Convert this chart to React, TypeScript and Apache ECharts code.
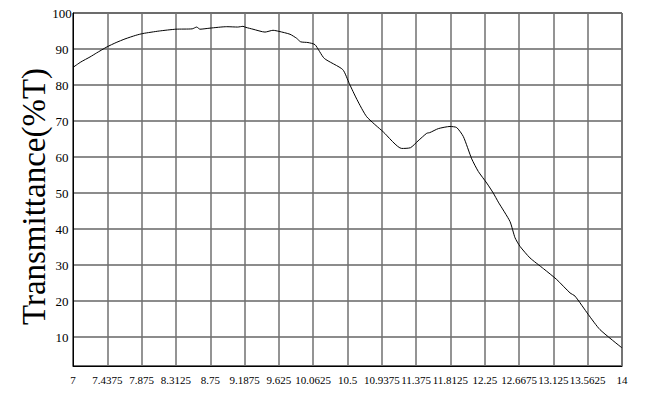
import React, { useEffect, useRef } from "react";
import * as echarts from "echarts";

const xTickLabels = ["7", "7.4375", "7.875", "8.3125", "8.75", "9.1875", "9.625", "10.0625", "10.5", "10.9375", "11.375", "11.8125", "12.25", "12.6675", "13.125", "13.5625", "14"];

const wavelength = [7.0, 7.1, 7.217, 7.3, 7.434, 7.55, 7.663, 7.8, 7.89, 8.1, 8.31, 8.52, 8.577, 8.619, 8.747, 8.96, 9.1, 9.167, 9.206, 9.295, 9.448, 9.55, 9.627, 9.767, 9.85, 9.903, 9.996, 10.086, 10.204, 10.439, 10.523, 10.62, 10.745, 10.956, 11.191, 11.303, 11.4, 11.51, 11.55, 11.658, 11.807, 11.892, 11.977, 12.084, 12.168, 12.275, 12.359, 12.423, 12.572, 12.636, 12.7, 12.827, 13.0, 13.168, 13.337, 13.401, 13.57, 13.719, 13.996];
const transmittance = [84.9, 86.4, 87.8, 88.9, 90.6, 91.8, 92.8, 93.8, 94.3, 95.0, 95.5, 95.6, 96.1, 95.5, 95.8, 96.2, 96.1, 96.3, 96.0, 95.5, 94.7, 95.2, 94.9, 94.1, 93.0, 92.0, 91.8, 91.2, 87.4, 84.3, 80.4, 76.0, 71.2, 67.0, 62.4, 62.6, 64.5, 66.6, 66.8, 67.9, 68.5, 68.2, 65.7, 59.5, 56.0, 52.8, 50.0, 47.5, 42.1, 37.6, 35.2, 32.0, 29.0, 26.0, 22.3, 21.4, 16.3, 12.1, 7.1];

const FONT = "'Liberation Serif', 'DejaVu Serif', serif";

export default function App() {
  const ref = useRef<HTMLDivElement>(null);
  useEffect(() => {
    if (!ref.current) return;
    const chart = echarts.init(ref.current, null, { renderer: "svg" });
    const data = wavelength.map((x, i) => [x, transmittance[i]]);
    chart.setOption({
      animation: false,
      backgroundColor: "#fff",
      grid: {
        left: 73,
        right: 35,
        top: 13,
        bottom: 34,
        show: true,
        borderColor: "#000",
        borderWidth: 1,
        containLabel: false,
      },
      xAxis: {
        type: "value",
        min: 7,
        max: 14,
        interval: 0.4375,
        axisLine: { show: true, lineStyle: { color: "#000", width: 1 } },
        axisTick: { show: false },
        splitLine: { show: true, lineStyle: { color: "#707070", width: 1.5 } },
        axisLabel: {
          margin: 8,
          color: "#000",
          fontFamily: FONT,
          fontSize: 11,
          showMinLabel: true,
          showMaxLabel: true,
          formatter: (v: number) => {
            const i = Math.round((v - 7) / 0.4375);
            return xTickLabels[i] ?? "";
          },
        },
      },
      yAxis: {
        type: "value",
        min: 2,
        max: 100,
        minInterval: 10,
        maxInterval: 10,
        name: "Transmittance(%T)",
        nameLocation: "middle",
        nameGap: 23,
        nameMoveOverlap: false,
        nameTextStyle: { color: "#000", fontFamily: FONT, fontSize: 33, padding: [0, 14, 0, 0] },
        axisLine: { show: true, lineStyle: { color: "#000", width: 1 } },
        axisTick: { show: false },
        splitLine: { show: true, lineStyle: { color: "#666", width: 1.5 } },
        axisLabel: {
          margin: 11,
          align: "center",
          color: "#000",
          fontFamily: FONT,
          fontSize: 13,
          formatter: (v: number) => (Math.round(v) % 10 === 0 ? String(Math.round(v)) : ""),
        },
      },
      series: [
        {
          type: "line",
          data,
          showSymbol: false,
          smooth: 0.2,
          lineStyle: { color: "#000", width: 1 },
        },
      ],
    });
    return () => chart.dispose();
  }, []);
  return (
    <div
      ref={ref}
      style={{ position: "fixed", left: 0, top: 0, width: 657, height: 400 }}
    />
  );
}
